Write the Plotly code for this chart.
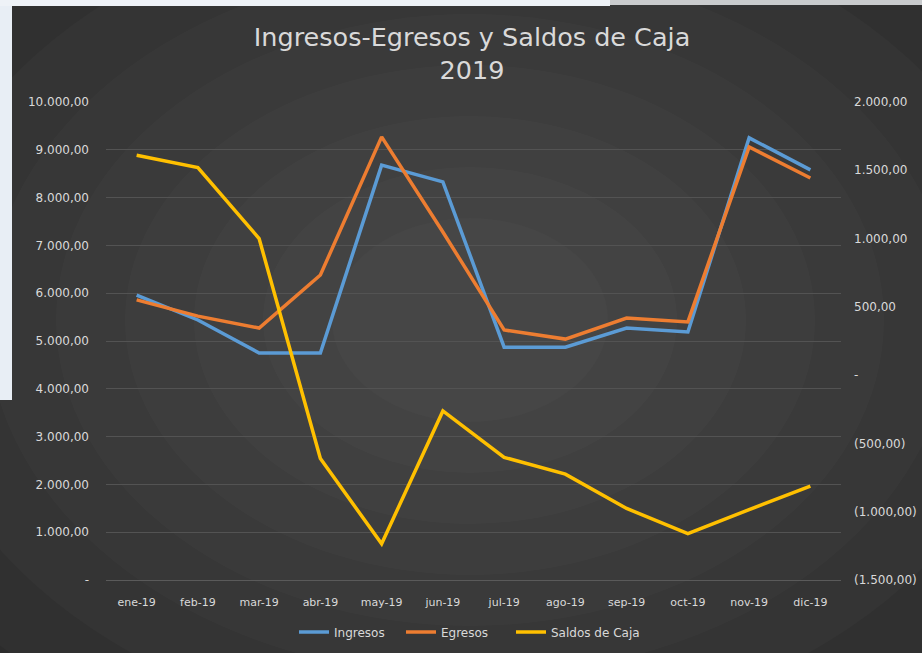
import plotly.graph_objects as go

months = ["ene-19", "feb-19", "mar-19", "abr-19", "may-19", "jun-19",
          "jul-19", "ago-19", "sep-19", "oct-19", "nov-19", "dic-19"]
ingresos = [5960, 5440, 4750, 4750, 8680, 8330, 4870, 4870, 5270, 5190, 9250, 8580]
egresos = [5860, 5520, 5270, 6380, 9270, 7280, 5230, 5040, 5480, 5400, 9060, 8410]
saldos = [1610, 1520, 1000, -610, -1235, -262, -602, -725, -976, -1160, -985, -813]

left_vals = [0, 1000, 2000, 3000, 4000, 5000, 6000, 7000, 8000, 9000, 10000]
left_text = ["-", "1.000,00", "2.000,00", "3.000,00", "4.000,00", "5.000,00",
             "6.000,00", "7.000,00", "8.000,00", "9.000,00", "10.000,00"]
right_vals = [-1500, -1000, -500, 0, 500, 1000, 1500, 2000]
right_text = ["(1.500,00)", "(1.000,00)", "(500,00)", "-", "500,00",
              "1.000,00", "1.500,00", "2.000,00"]

W, H = 922, 653
L, R, T, B = 106, 841, 102, 580
PW, PH = R - L, B - T

def xp(px):
    return (px - L) / PW

def yp(py):
    return (B - py) / PH

fig = go.Figure()
fig.add_trace(go.Scatter(x=months, y=ingresos, name="Ingresos", mode="lines",
                         line=dict(color="#5b9bd5", width=3.5), legend="legend"))
fig.add_trace(go.Scatter(x=months, y=egresos, name="Egresos", mode="lines",
                         line=dict(color="#ed7d31", width=3.5), legend="legend2"))
fig.add_trace(go.Scatter(x=months, y=saldos, name="Saldos de Caja", mode="lines",
                         line=dict(color="#ffc000", width=3.5), yaxis="y2",
                         legend="legend3"))

shapes = []
shapes.append(dict(type="rect", xref="paper", yref="paper", layer="below",
                   x0=xp(0), x1=xp(W), y0=yp(H), y1=yp(0),
                   fillcolor="#282828", line=dict(width=0)))
# radial-ish gradient
cx, cy = 470, 320
for r in [640, 560, 490, 420, 360, 300, 240, 180, 120]:
    shapes.append(dict(type="circle", xref="paper", yref="paper", layer="below",
                       x0=xp(cx - r * 1.15), x1=xp(cx + r * 1.15),
                       y0=yp(cy + r * 0.85), y1=yp(cy - r * 0.85),
                       fillcolor="rgba(255,255,255,0.02)", line=dict(width=0)))
shapes.append(dict(type="rect", xref="paper", yref="paper", layer="below",
                   x0=xp(0), x1=xp(12), y0=yp(400), y1=yp(0),
                   fillcolor="#e8eef5", line=dict(width=0)))
shapes.append(dict(type="rect", xref="paper", yref="paper", layer="below",
                   x0=xp(0), x1=xp(610), y0=yp(6), y1=yp(0),
                   fillcolor="#eef2f7", line=dict(width=0)))
shapes.append(dict(type="rect", xref="paper", yref="paper", layer="below",
                   x0=xp(610), x1=xp(W), y0=yp(5), y1=yp(0),
                   fillcolor="#c9cbcd", line=dict(width=0)))

font_family = "DejaVu Sans"
txt = "#d9d9d9"

def leg(px):
    return dict(orientation="h", x=xp(px), xanchor="left",
                y=yp(632), yanchor="middle",
                font=dict(size=12, color=txt), bgcolor="rgba(0,0,0,0)")

fig.update_layout(
    width=W, height=H,
    margin=dict(l=L, r=W - R, t=T, b=H - B, pad=0, autoexpand=False),
    paper_bgcolor="#282828",
    plot_bgcolor="rgba(0,0,0,0)",
    shapes=shapes,
    font=dict(family=font_family, color=txt, size=11),
    title=dict(text="Ingresos-Egresos y Saldos de Caja<br>2019",
               x=0.512, xanchor="center", y=1 - 46 / H, yanchor="middle",
               font=dict(family=font_family, size=25.5, color=txt)),
    xaxis=dict(type="category", range=[-0.5, 11.5], showgrid=False, showline=True,
               linecolor="#5a5a5a", linewidth=1, automargin=False,
               ticks="outside", ticklen=12, tickcolor="rgba(0,0,0,0)",
               tickfont=dict(size=11, color=txt), zeroline=False),
    yaxis=dict(range=[0, 10000], tickvals=left_vals, ticktext=left_text,
               showgrid=True, gridcolor="#535353", gridwidth=1, automargin=False,
               zeroline=False, showline=False,
               ticklabelstandoff=16, tickfont=dict(size=12, color=txt)),
    yaxis2=dict(range=[-1500, 2000], tickvals=right_vals, ticktext=right_text,
                overlaying="y", side="right", showgrid=False, zeroline=False,
                showline=False, ticklabelstandoff=12, automargin=False,
                tickfont=dict(size=12, color=txt)),
    legend=leg(294),
    legend2=leg(401),
    legend3=leg(511),
    showlegend=True,
)

fig.write_html("out.html", config={"displayModeBar": False},
               post_script="document.body.style.margin='0';")
